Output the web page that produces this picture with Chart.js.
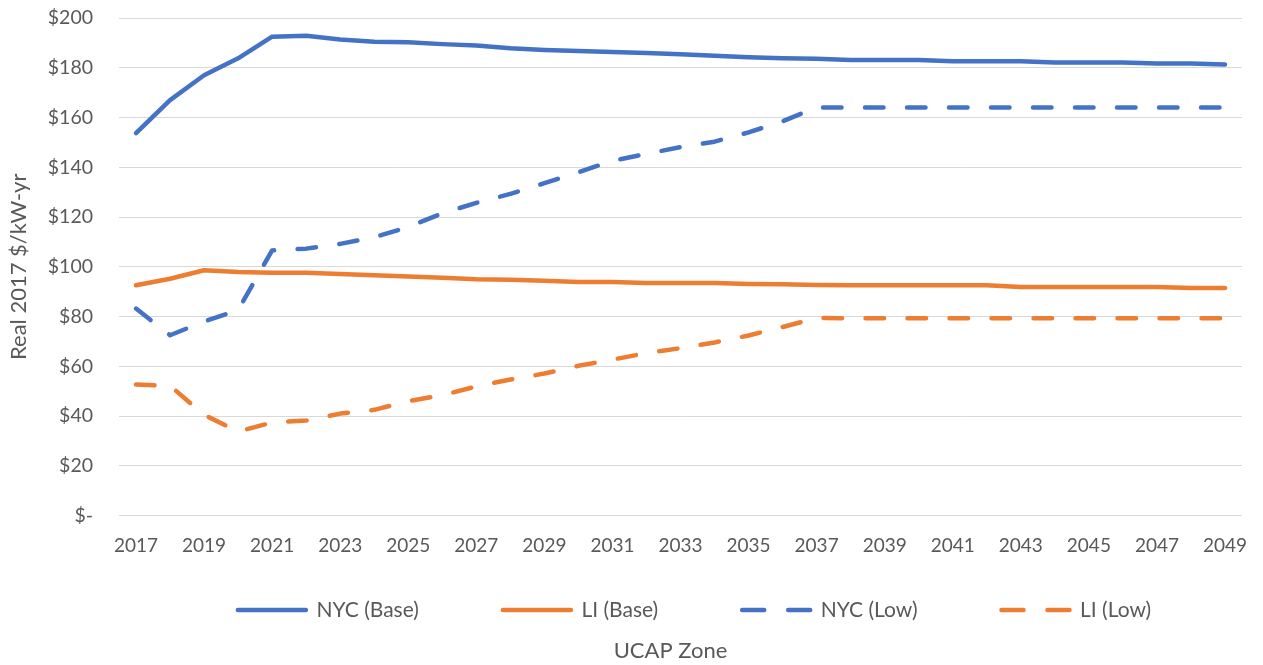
<!DOCTYPE html>
<html>
<head>
<meta charset="utf-8">
<script src="https://cdn.jsdelivr.net/npm/chart.js@4.4.1/dist/chart.umd.min.js"></script>
<style>
  html, body { margin: 0; padding: 0; background: #ffffff; }
  #wrap { width: 1263px; height: 665px; position: relative; }
</style>
</head>
<body>
<div id="wrap"><canvas id="c" width="1263" height="665"></canvas></div>
<script>
const years = [2017,2018,2019,2020,2021,2022,2023,2024,2025,2026,2027,2028,2029,2030,2031,2032,2033,2034,2035,2036,2037,2038,2039,2040,2041,2042,2043,2044,2045,2046,2047,2048,2049];

const nycBase = [153.7,167.0,177.0,183.8,192.5,192.9,191.4,190.5,190.3,189.5,188.9,187.8,187.1,186.7,186.3,185.9,185.4,184.8,184.2,183.8,183.6,183.1,183.1,183.1,182.6,182.6,182.6,182.1,182.1,182.1,181.7,181.7,181.3];
const liBase = [92.6,95.2,98.6,97.9,97.6,97.6,97.1,96.6,96.1,95.6,95.0,94.8,94.4,93.9,93.9,93.5,93.5,93.5,93.1,93.0,92.7,92.6,92.6,92.6,92.6,92.6,91.9,91.9,91.9,91.9,91.9,91.5,91.5];
const nycLow = [83.2,72.5,78.0,82.6,106.6,107.3,109.2,111.9,116.0,121.5,125.7,129.3,133.6,138.0,142.6,145.4,148.1,150.3,154.0,158.5,164.0,164.0,164.0,164.0,164.0,164.0,164.0,164.0,164.0,164.0,164.0,164.0,164.0];
const liLow = [52.7,52.2,40.5,33.8,37.4,38.2,41.0,42.5,46.0,48.4,51.9,54.7,57.1,60.2,62.7,65.3,67.3,69.6,72.4,75.8,79.4,79.3,79.3,79.3,79.3,79.3,79.3,79.3,79.3,79.3,79.3,79.3,79.3];

const seriesNames = ['NYC (Base)', 'LI (Base)', 'NYC (Low)', 'LI (Low)'];
const yTicks = [0,20,40,60,80,100,120,140,160,180,200];

const BLUE = '#4472C4';
const ORANGE = '#ED7D31';
const TXT = '#595959';
const FONT = 'Lato';
const LEGEND_PAD = 84;
const LEGEND_FONT = 21;

function ds(label, data, color, dashed) {
  return {
    label: label,
    data: data,
    borderColor: color,
    backgroundColor: color,
    borderWidth: 4.5,
    borderDash: dashed ? [18.5, 23.5] : [],
    borderCapStyle: 'round',
    borderJoinStyle: 'round',
    pointRadius: 0,
    pointHoverRadius: 0,
    tension: 0,
    fill: false
  };
}

// position legend between the x tick labels and the bottom axis title
const legendPlace = {
  id: 'legendPlace',
  afterLayout(chart) {
    const lg = chart.legend;
    if (lg) {
      lg.top = 610 - LEGEND_PAD - LEGEND_FONT / 2;
      lg.height = LEGEND_PAD + LEGEND_FONT + 10;
      lg.bottom = lg.top + lg.height;
      lg.left += 14;
      lg.right += 14;
    }
    const tb = chart.titleBlock;
    if (tb) {
      tb.left -= 10;
      tb.right -= 10;
    }
  }
};

new Chart(document.getElementById('c'), {
  type: 'line',
  data: {
    labels: years,
    datasets: [
      ds(seriesNames[0], nycBase, BLUE, false),
      ds(seriesNames[1], liBase, ORANGE, false),
      ds(seriesNames[2], nycLow, BLUE, true),
      ds(seriesNames[3], liLow, ORANGE, true)
    ]
  },
  plugins: [legendPlace],
  options: {
    responsive: false,
    animation: false,
    devicePixelRatio: 1,
    layout: { padding: { top: 18, right: 21, bottom: 0, left: 0 } },
    scales: {
      x: {
        type: 'category',
        offset: true,
        grid: { display: false, drawTicks: false },
        border: { display: false },
        ticks: {
          autoSkip: false,
          maxRotation: 0,
          padding: 19,
          color: TXT,
          font: { family: FONT, size: 19 },
          callback: function(v, i) { return i % 2 === 0 ? String(years[i]) : ''; }
        },
        afterFit: function(s) { s.height = 60; s.paddingLeft = 0; s.paddingRight = 0; }
      },
      y: {
        min: 0,
        max: 200,
        afterBuildTicks: function(s) { s.ticks = yTicks.map(v => ({ value: v })); },
        grid: { color: '#d9d9d9', lineWidth: 1, drawTicks: false },
        border: { display: false },
        ticks: {
          padding: 26,
          color: TXT,
          font: { family: FONT, size: 19.5 },
          callback: function(v) { return v === 0 ? '$-' : '$' + v; }
        },
        title: {
          display: true,
          text: 'Real 2017 $/kW-yr',
          color: TXT,
          font: { family: FONT, size: 22 },
          padding: { top: 6, bottom: 0 }
        },
        afterFit: function(s) { s.width = 119; s.paddingTop = 0; s.paddingBottom = 0; }
      }
    },
    plugins: {
      legend: {
        display: true,
        position: 'bottom',
        fullSize: false,
        maxHeight: 54,
        labels: {
          usePointStyle: true,
          pointStyle: 'line',
          pointStyleWidth: 68,
          padding: LEGEND_PAD,
          color: TXT,
          font: { family: FONT, size: LEGEND_FONT },
          generateLabels: function(chart) {
            const items = Chart.defaults.plugins.legend.labels.generateLabels(chart);
            items.forEach((it, i) => {
              it.lineCap = 'round';
              it.lineWidth = 4.5;
              it.pointStyle = 'line';
              it.lineDash = chart.data.datasets[i].borderDash.length ? [22, 24] : [];
            });
            return items;
          }
        }
      },
      title: {
        display: true,
        position: 'bottom',
        fullSize: false,
        text: 'UCAP Zone',
        color: TXT,
        font: { family: FONT, size: 22, weight: 'normal' },
        padding: { top: 8, bottom: 1 }
      },
      tooltip: { enabled: false }
    }
  }
});
</script>
</body>
</html>
